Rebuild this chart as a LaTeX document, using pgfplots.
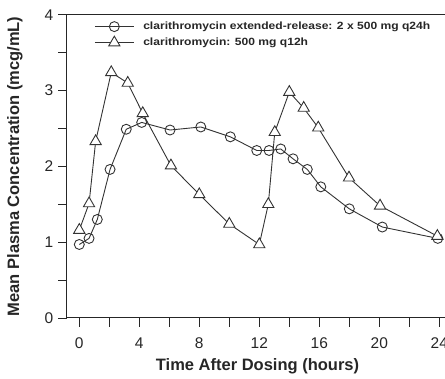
\documentclass[border=0pt]{standalone}
\usepackage{fontspec}
\setmainfont{Liberation Sans}
\newfontfamily\legfont[FakeStretch=1.15]{Liberation Sans}
\usepackage{pgfplots}
\pgfplotsset{compat=1.18}
\definecolor{ink}{HTML}{333333}
\begin{document}
\begin{tikzpicture}
\path[use as bounding box] (-66.7pt,-61pt) rectangle (378.3pt,318pt);
\clip (-66.7pt,-61pt) rectangle (378.3pt,318pt);
\begin{axis}[
  at={(0pt,0pt)}, anchor=south west,
  scale only axis, width=381.6pt, height=303.2pt,
  xmin=-0.84, xmax=24.6, ymin=0, ymax=4,
  xtick={0,4,...,24}, minor xtick={2,6,...,22},
  ytick={0,1,2,3,4}, minor ytick={0.5,1.5,2.5,3.5},
  tick align=inside, xtick pos=bottom, ytick pos=left,
  major tick length=-9pt, minor tick length=-9pt,
  tick style={line width=0.9pt, color=black!85},
  axis line style={line width=1pt, black!85},
  /pgf/number format/assume math mode=true,
  ticklabel style={font=\fontsize{15.5}{18}\selectfont, text=black!85},
  xticklabel style={anchor=center, yshift=-25pt},
  yticklabel style={anchor=center, xshift=-17.7pt},
  xlabel={Time After Dosing (hours)},
  ylabel={Mean Plasma Concentration (mcg/mL)},
  label style={font=\fontsize{16.5}{20}\selectfont\bfseries, text=black!85},
  xlabel style={at={(axis description cs:0.5,0)}, anchor=center, yshift=-48pt},
  ylabel style={at={(axis description cs:0,0.5)}, anchor=center, xshift=0pt, yshift=51.7pt},
  legend style={draw=none, fill=none, at={(axis description cs:0.072,0.98)}, anchor=north west,
    font=\legfont\fontsize{10.5}{12}\selectfont\bfseries, inner sep=0pt,
    nodes={inner sep=1pt, text=black!85}, row sep=4pt,
    /tikz/every odd column/.append style={column sep=8pt}},
  legend cell align=left,
  legend image code/.code={\draw[#1, mark repeat=2, mark phase=2] plot coordinates {(0pt,0pt) (19.5pt,0pt) (39pt,0pt)};},
]
\addplot[ink, line width=0.9pt, mark=o, mark size=5pt, mark options={fill=white, line width=0.9pt}] coordinates {
(0,0.97) (0.65,1.05) (1.2,1.30) (2.05,1.96) (3.13,2.49) (4.16,2.58) (6.05,2.48) (8.1,2.52)
(10.07,2.39) (11.83,2.21) (12.65,2.21) (13.43,2.23) (14.25,2.10) (15.2,1.96) (16.1,1.73)
(18.0,1.44) (20.2,1.20) (23.9,1.05)};
\addlegendentry{clarithromycin extended-release: 2 x 500 mg q24h}
\addplot[ink, line width=0.9pt, mark=triangle*, mark size=6.5pt, mark options={fill=white, line width=0.9pt}] coordinates {
(0,1.16) (0.65,1.51) (1.09,2.33) (2.13,3.24) (3.23,3.10) (4.23,2.70) (6.11,2.01) (8.0,1.63)
(10.0,1.24) (12.0,0.97) (12.6,1.50) (13.03,2.45) (14.0,2.98) (14.96,2.77) (15.93,2.51)
(17.98,1.85) (20.05,1.48) (23.87,1.08)};
\addlegendentry{clarithromycin: 500 mg q12h}
\draw[line width=1pt, black!85] (rel axis cs:0,0) -- ++(0,-9pt);
\end{axis}
\end{tikzpicture}
\end{document}
